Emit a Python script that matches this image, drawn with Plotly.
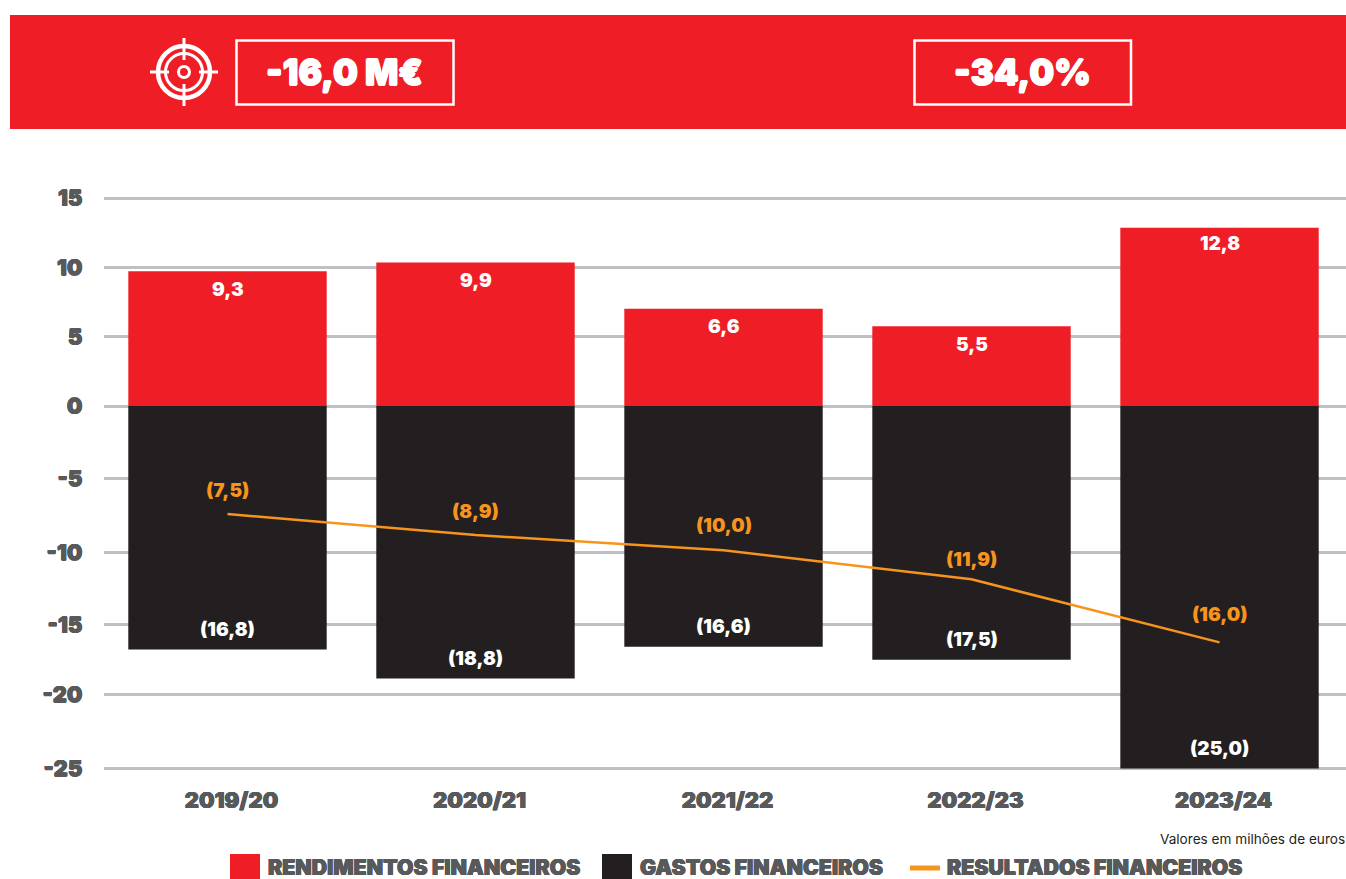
import plotly.graph_objects as go

W, H = 1346, 879

# ---- data ----
seasons = ["2019/20", "2020/21", "2021/22", "2022/23", "2023/24"]
income_drawn = [9.3, 9.9, 6.7, 5.5, 12.3]
costs_drawn = [-16.8, -18.8, -16.6, -17.5, -25.0]
result_drawn = [-7.45, -8.9, -9.95, -11.95, -16.3]
income_labels = ["9,3", "9,9", "6,6", "5,5", "12,8"]
costs_labels = ["(16,8)", "(18,8)", "(16,6)", "(17,5)", "(25,0)"]
result_labels = ["(7,5)", "(8,9)", "(10,0)", "(11,9)", "(16,0)"]
y_tick_vals = [14.34, 9.55, 4.76, 0, -5.0, -10.1, -15.1, -19.9, -25.0]
y_tick_text = ["15", "10", "5", "0", "-5", "-10", "-15", "-20", "-25"]
kpi_left = "-16,0 M€"
kpi_right = "-34,0%"
note = "Valores em milhões de euros"
legend_names = ["RENDIMENTOS FINANCEIROS", "GASTOS FINANCEIROS", "RESULTADOS FINANCEIROS"]

RED, DARK, ORANGE, GREY, GRID = "#EF1E26", "#231F20", "#F7941D", "#58595B", "#BFC0C2"
HEAVY = "Inter"

def fx(p): return p / W
def fy(p): return 1 - p / H

ZERO_PX, PX_PER_UNIT = 406, 14.5
Y_TOP, Y_BOT = 16.3, -26.14
ytop_px = ZERO_PX - Y_TOP * PX_PER_UNIT
ybot_px = ZERO_PX - Y_BOT * PX_PER_UNIT

fig = go.Figure()
fig.add_bar(x=seasons, y=income_drawn, marker=dict(color=RED, line_width=0), name=legend_names[0])
fig.add_bar(x=seasons, y=costs_drawn, marker=dict(color=DARK, line_width=0), name=legend_names[1])
fig.add_scatter(x=seasons, y=result_drawn, mode="lines", line=dict(color=ORANGE, width=2.5), name=legend_names[2])

def font(size, color, weight=900, family=HEAVY, fat=0.0):
    f = dict(size=size, color=color, weight=weight, family=family)
    if fat:
        f["shadow"] = f"{fat}px 0 0 {color}, -{fat}px 0 0 {color}, 0 {fat}px 0 {color}, 0 -{fat}px 0 {color}"
    return f

ann = []
income_shift = [-18, -18, -18, -18, -16]
for s, v, t, d in zip(seasons, income_drawn, income_labels, income_shift):
    ann.append(dict(x=s, y=v, text=t, showarrow=False, yshift=d, font=font(19, "white")))
for s, v, t in zip(seasons, costs_drawn, costs_labels):
    ann.append(dict(x=s, y=v, text=t, showarrow=False, yshift=20, font=font(19, "white")))
result_shift = [24, 24, 25, 20, 28]
for s, v, t, d in zip(seasons, result_drawn, result_labels, result_shift):
    ann.append(dict(x=s, y=v, text=t, showarrow=False, yshift=d, font=font(19, ORANGE)))

def page_text(x, y, text, f, anchor="center"):
    ann.append(dict(xref="paper", yref="paper", x=fx(x), y=fy(y), text=text, showarrow=False,
                    xanchor=anchor, yanchor="middle", font=f))

page_text(345, 72, kpi_left, font(35, "white", fat=0.7))
page_text(1022, 72, kpi_right, font(35, "white", fat=0.7))
page_text(1347, 839, note, font(13.6, "#231F20", 400, "Inter"), "right")
page_text(266, 867, legend_names[0], font(21.3, GREY, fat=0.4), "left")
page_text(638, 867, legend_names[1], font(21.3, GREY, fat=0.4), "left")
page_text(945, 867, legend_names[2], font(21.3, GREY, fat=0.4), "left")

shapes = []
def rect(x0, y0, x1, y1, **k):
    shapes.append(dict(type="rect", xref="paper", yref="paper", x0=fx(x0), x1=fx(x1), y0=fy(y0), y1=fy(y1), layer="above", **k))
def circle(cx, cy, r, w):
    shapes.append(dict(type="circle", xref="paper", yref="paper", x0=fx(cx-r), x1=fx(cx+r), y0=fy(cy-r), y1=fy(cy+r),
                       line=dict(color="white", width=w), layer="above"))
def seg(x0, y0, x1, y1, w):
    shapes.append(dict(type="line", xref="paper", yref="paper", x0=fx(x0), x1=fx(x1), y0=fy(y0), y1=fy(y1),
                       line=dict(color="white", width=w), layer="above"))

rect(10, 15, 1346, 129, fillcolor=RED, line_width=0)
rect(236.5, 40.5, 453.5, 104.5, line=dict(color="white", width=2.5))
rect(914.5, 40.5, 1131, 104.5, line=dict(color="white", width=2.5))
cx, cy = 184, 72
circle(cx, cy, 26, 4.5)
circle(cx, cy, 18.5, 3)
circle(cx, cy, 5.5, 3)
seg(150, cy, 169, cy, 3); seg(199, cy, 218, cy, 3)
seg(cx, 38, cx, 60, 3); seg(cx, 84, cx, 106, 3)
rect(230, 854, 260, 879, fillcolor=RED, line_width=0)
rect(602, 854, 632, 879, fillcolor=DARK, line_width=0)
rect(910, 865.5, 940, 870.5, fillcolor=ORANGE, line_width=0)

fig.update_layout(
    width=W, height=H, margin=dict(l=0, r=0, t=0, b=0), autosize=False,
    paper_bgcolor="white", plot_bgcolor="white", barmode="relative", bargap=0.2,
    showlegend=False, annotations=ann, shapes=shapes,
    xaxis=dict(domain=[fx(103.5), 1], range=[-0.5, 4.51], type="category", showgrid=False, zeroline=False,
               showline=False, ticks="", tickfont=font(22, GREY, fat=0.4), ticklabelstandoff=0, ticklabelshift=4,
               automargin=False, anchor="y", fixedrange=True),
    yaxis=dict(domain=[fy(ybot_px), fy(ytop_px)], range=[Y_BOT, Y_TOP], tickvals=y_tick_vals, ticktext=y_tick_text,
               showgrid=True, gridcolor=GRID, gridwidth=2.5, zeroline=False, showline=False, ticks="",
               tickfont=font(22, GREY, fat=0.4), ticklabelstandoff=20, automargin=False, fixedrange=True),
)
fig.write_html("out.html", config=dict(displayModeBar=False),
               post_script="document.body.style.margin='0';document.body.style.overflow='hidden';")
